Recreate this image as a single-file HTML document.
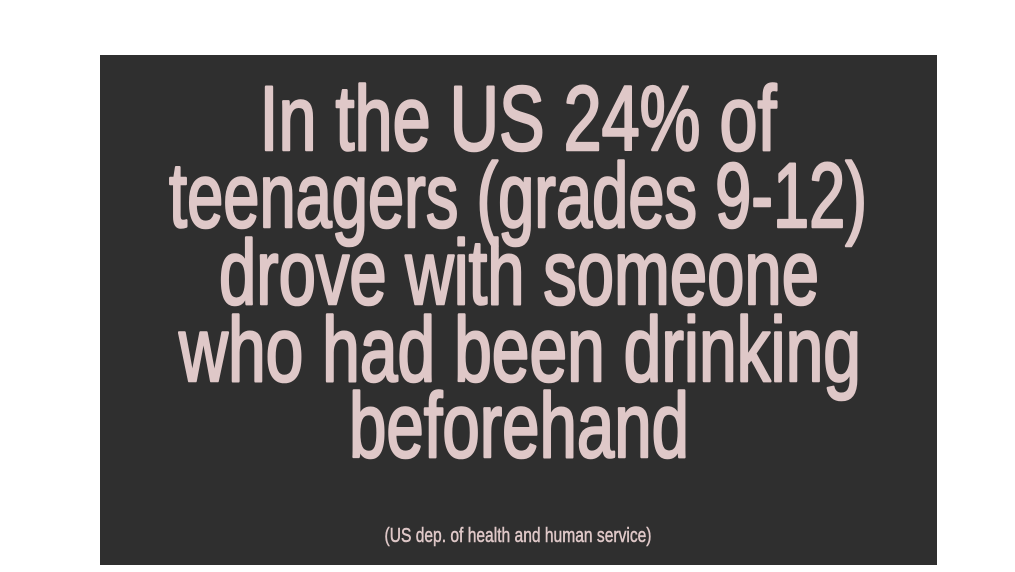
<!DOCTYPE html>
<html><head><meta charset="utf-8"><style>
html,body{margin:0;padding:0;background:#fff;width:1015px;height:572px;overflow:hidden}
svg{display:block}
text{font-family:"Liberation Sans Narrow","Liberation Sans",sans-serif;fill:#dfc8c8}
</style></head><body>
<svg width="1015" height="572">
<rect x="100" y="55" width="837" height="510" fill="#2f2f2f"/>
<g font-size="92" text-anchor="middle" stroke="#dfc8c8" stroke-width="2.6" stroke-linejoin="round">
<text x="518" y="150" textLength="517" lengthAdjust="spacingAndGlyphs">In the US 24% of</text>
<text x="518" y="227" textLength="698" lengthAdjust="spacingAndGlyphs">teenagers (grades 9-12)</text>
<text x="519" y="304" textLength="600" lengthAdjust="spacingAndGlyphs">drove with someone</text>
<text x="520" y="381" textLength="682" lengthAdjust="spacingAndGlyphs">who had been drinking</text>
<text x="519" y="457" textLength="340" lengthAdjust="spacingAndGlyphs">beforehand</text>
</g>
<text x="518" y="542" font-size="20" text-anchor="middle" stroke="#dfc8c8" stroke-width="0.5" textLength="267" lengthAdjust="spacingAndGlyphs">(US dep. of health and human service)</text>
</svg>
</body></html>
